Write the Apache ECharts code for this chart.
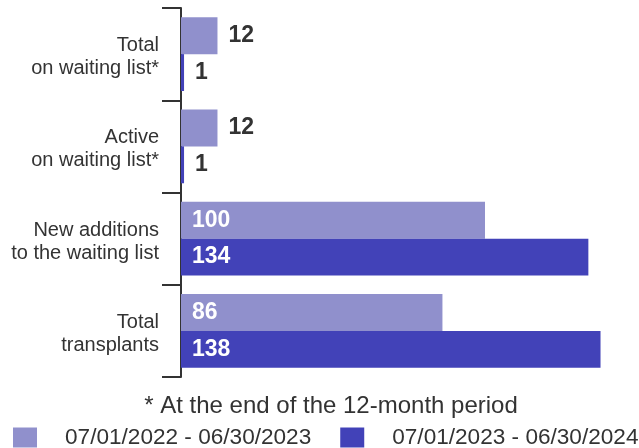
<!DOCTYPE html>
<html>
<head>
<meta charset="utf-8">
<script src="https://cdn.jsdelivr.net/npm/echarts@6/dist/echarts.min.js"></script>
<style>html,body{margin:0;padding:0;background:#fff}#c{width:639px;height:448px}</style>
</head>
<body>
<div id="c"></div>
<script>
const categories = ["Total\non waiting list*", "Active\non waiting list*", "New additions\nto the waiting list", "Total\ntransplants"];
const seriesNames = ["07/01/2022 - 06/30/2023", "07/01/2023 - 06/30/2024"];
const values2223 = [12, 12, 100, 86];
const values2324 = [1, 1, 134, 138];
const footnote = "* At the end of the 12-month period";
const colors = ["#9090CC", "#4242B8"];
const FONT = "Liberation Sans, Arial, sans-serif";

function items(vals) {
  return vals.map(v => ({
    value: v,
    label: v < 50
      ? { position: "right", color: "#333333", distance: 11 }
      : { position: "insideLeft", color: "#ffffff", distance: 11 }
  }));
}

const chart = echarts.init(document.getElementById("c"), null, { renderer: "canvas" });
chart.setOption({
  animation: false,
  color: colors,
  textStyle: { fontFamily: FONT },
  title: {
    text: footnote,
    left: 331, top: 394, textAlign: "center", padding: 0,
    textStyle: { fontFamily: FONT, fontSize: 24, fontWeight: "normal", color: "#333333" }
  },
  legend: {
    left: 13, top: 426, itemWidth: 24, itemHeight: 20, itemGap: 29,
    icon: "rect", padding: 0,
    textStyle: { fontFamily: FONT, fontSize: 22.6, color: "#333333", padding: [0, 0, 0, 23] },
    data: seriesNames
  },
  grid: { left: 181, right: 2, top: 8, bottom: 71, containLabel: false },
  xAxis: {
    type: "value", min: 0, max: 150, show: false
  },
  yAxis: {
    type: "category", inverse: true, data: categories,
    axisLine: { show: true, lineStyle: { color: "#333333", width: 2 } },
    axisTick: { show: true, length: 19, lineStyle: { color: "#333333", width: 2 } },
    axisLabel: {
      margin: 22, color: "#333333", align: "right",
      formatter: v => "{t|" + v.split("\n").join("}\n{t|") + "}",
      rich: { t: { fontFamily: FONT, fontSize: 20, lineHeight: 23, color: "#333333", align: "right" } },
      padding: [6, 0, 0, 0]
    },
    splitLine: { show: false }
  },
  series: [
    {
      name: seriesNames[0], type: "bar", data: items(values2223),
      barGap: "0%", barCategoryGap: "20%",
      label: { show: true, fontFamily: FONT, fontSize: 23, fontWeight: "bold" }
    },
    {
      name: seriesNames[1], type: "bar", data: items(values2324),
      barGap: "0%", barCategoryGap: "20%",
      label: { show: true, fontFamily: FONT, fontSize: 23, fontWeight: "bold" }
    }
  ]
});
</script>
</body>
</html>
